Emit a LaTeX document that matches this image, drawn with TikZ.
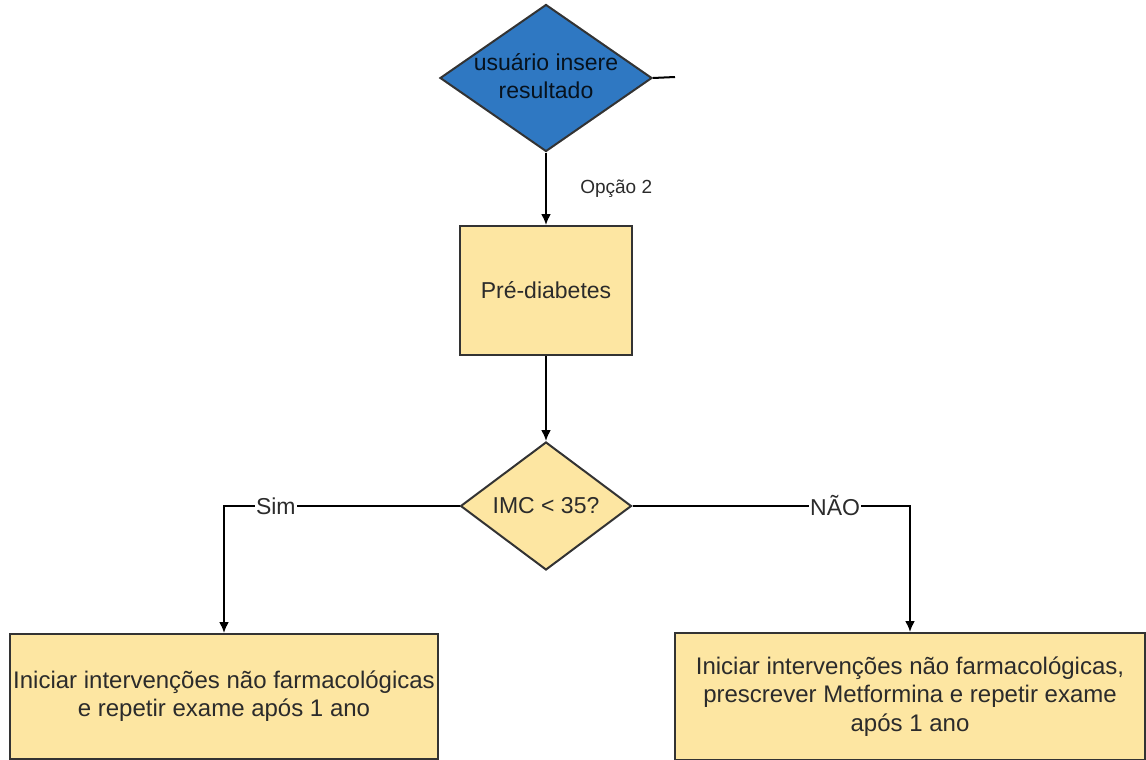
\documentclass[tikz,border=0pt]{standalone}
\usepackage{fontspec}
\setmainfont{Liberation Sans}
\usepackage{xcolor}
\usepackage{tikz}
\usetikzlibrary{positioning, arrows.meta, calc, shapes.geometric}
\definecolor{flowblue}{HTML}{2F78C2}
\definecolor{flowsand}{HTML}{FDE6A2}
\definecolor{flowline}{HTML}{333333}
\definecolor{flowtext}{HTML}{2B2B2B}

\tikzset{
  flowbox/.style={draw=flowline, line width=2pt, fill=flowsand, rectangle,
                  align=center, text=flowtext, inner sep=0pt},
  decision/.style={draw=flowline, line width=2pt, diamond, inner sep=0pt,
                   align=center, text=flowtext},
  arrow/.style={draw=black, line width=2pt, -{Latex[length=11pt,width=10pt]}},
  link/.style={draw=black, line width=2pt},
  tag/.style={fill=white, inner sep=1pt, text=flowtext}
}

\begin{document}
\begin{tikzpicture}[x=1pt, y=-1pt, font=\fontsize{23}{28}\selectfont]
    \useasboundingbox (0,0) rectangle (1146,760);

    % entrada do resultado
    \node[decision, fill=flowblue, minimum width=212pt, minimum height=147pt] (entrada) at (546,78) {};
    \node[align=center, text=black!85!flowblue] (entradatxt) at (546,76) {usuário insere\\resultado};
    \coordinate (stub) at (675,77);

    \node[flowbox, minimum width=172pt, minimum height=129pt] (pre) at (546,290.5) {Pré-diabetes};
    \node[decision, fill=flowsand, minimum width=171pt, minimum height=128pt] (imc) at (546,506) {IMC < 35?};

    % condutas
    \node[flowbox, minimum width=428pt, minimum height=125pt, font=\fontsize{24}{28}\selectfont] (esq) at (224,696.5)
      {Iniciar intervenções não farmacológicas\\e repetir exame após 1 ano};
    \node[flowbox, minimum width=470pt, minimum height=127pt, font=\fontsize{24}{28.5}\selectfont] (dir) at (910,696.5)
      {Iniciar intervenções não farmacológicas,\\prescrever Metformina e repetir exame\\após 1 ano};

    \draw[link] (entrada.east) -- (stub);
    \draw[arrow] (entrada.south) -- node[right=30pt, font=\fontsize{19}{22}\selectfont, text=flowtext]{Opção 2} (pre.north);
    \draw[arrow] (pre.south) -- (imc.north);
    \draw[arrow] (imc.west) -| node[tag, pos=0.39]{Sim} (esq.north);
    \draw[arrow] (imc.east) -| node[tag, pos=0.365]{NÃO} (dir.north);
\end{tikzpicture}
\end{document}
